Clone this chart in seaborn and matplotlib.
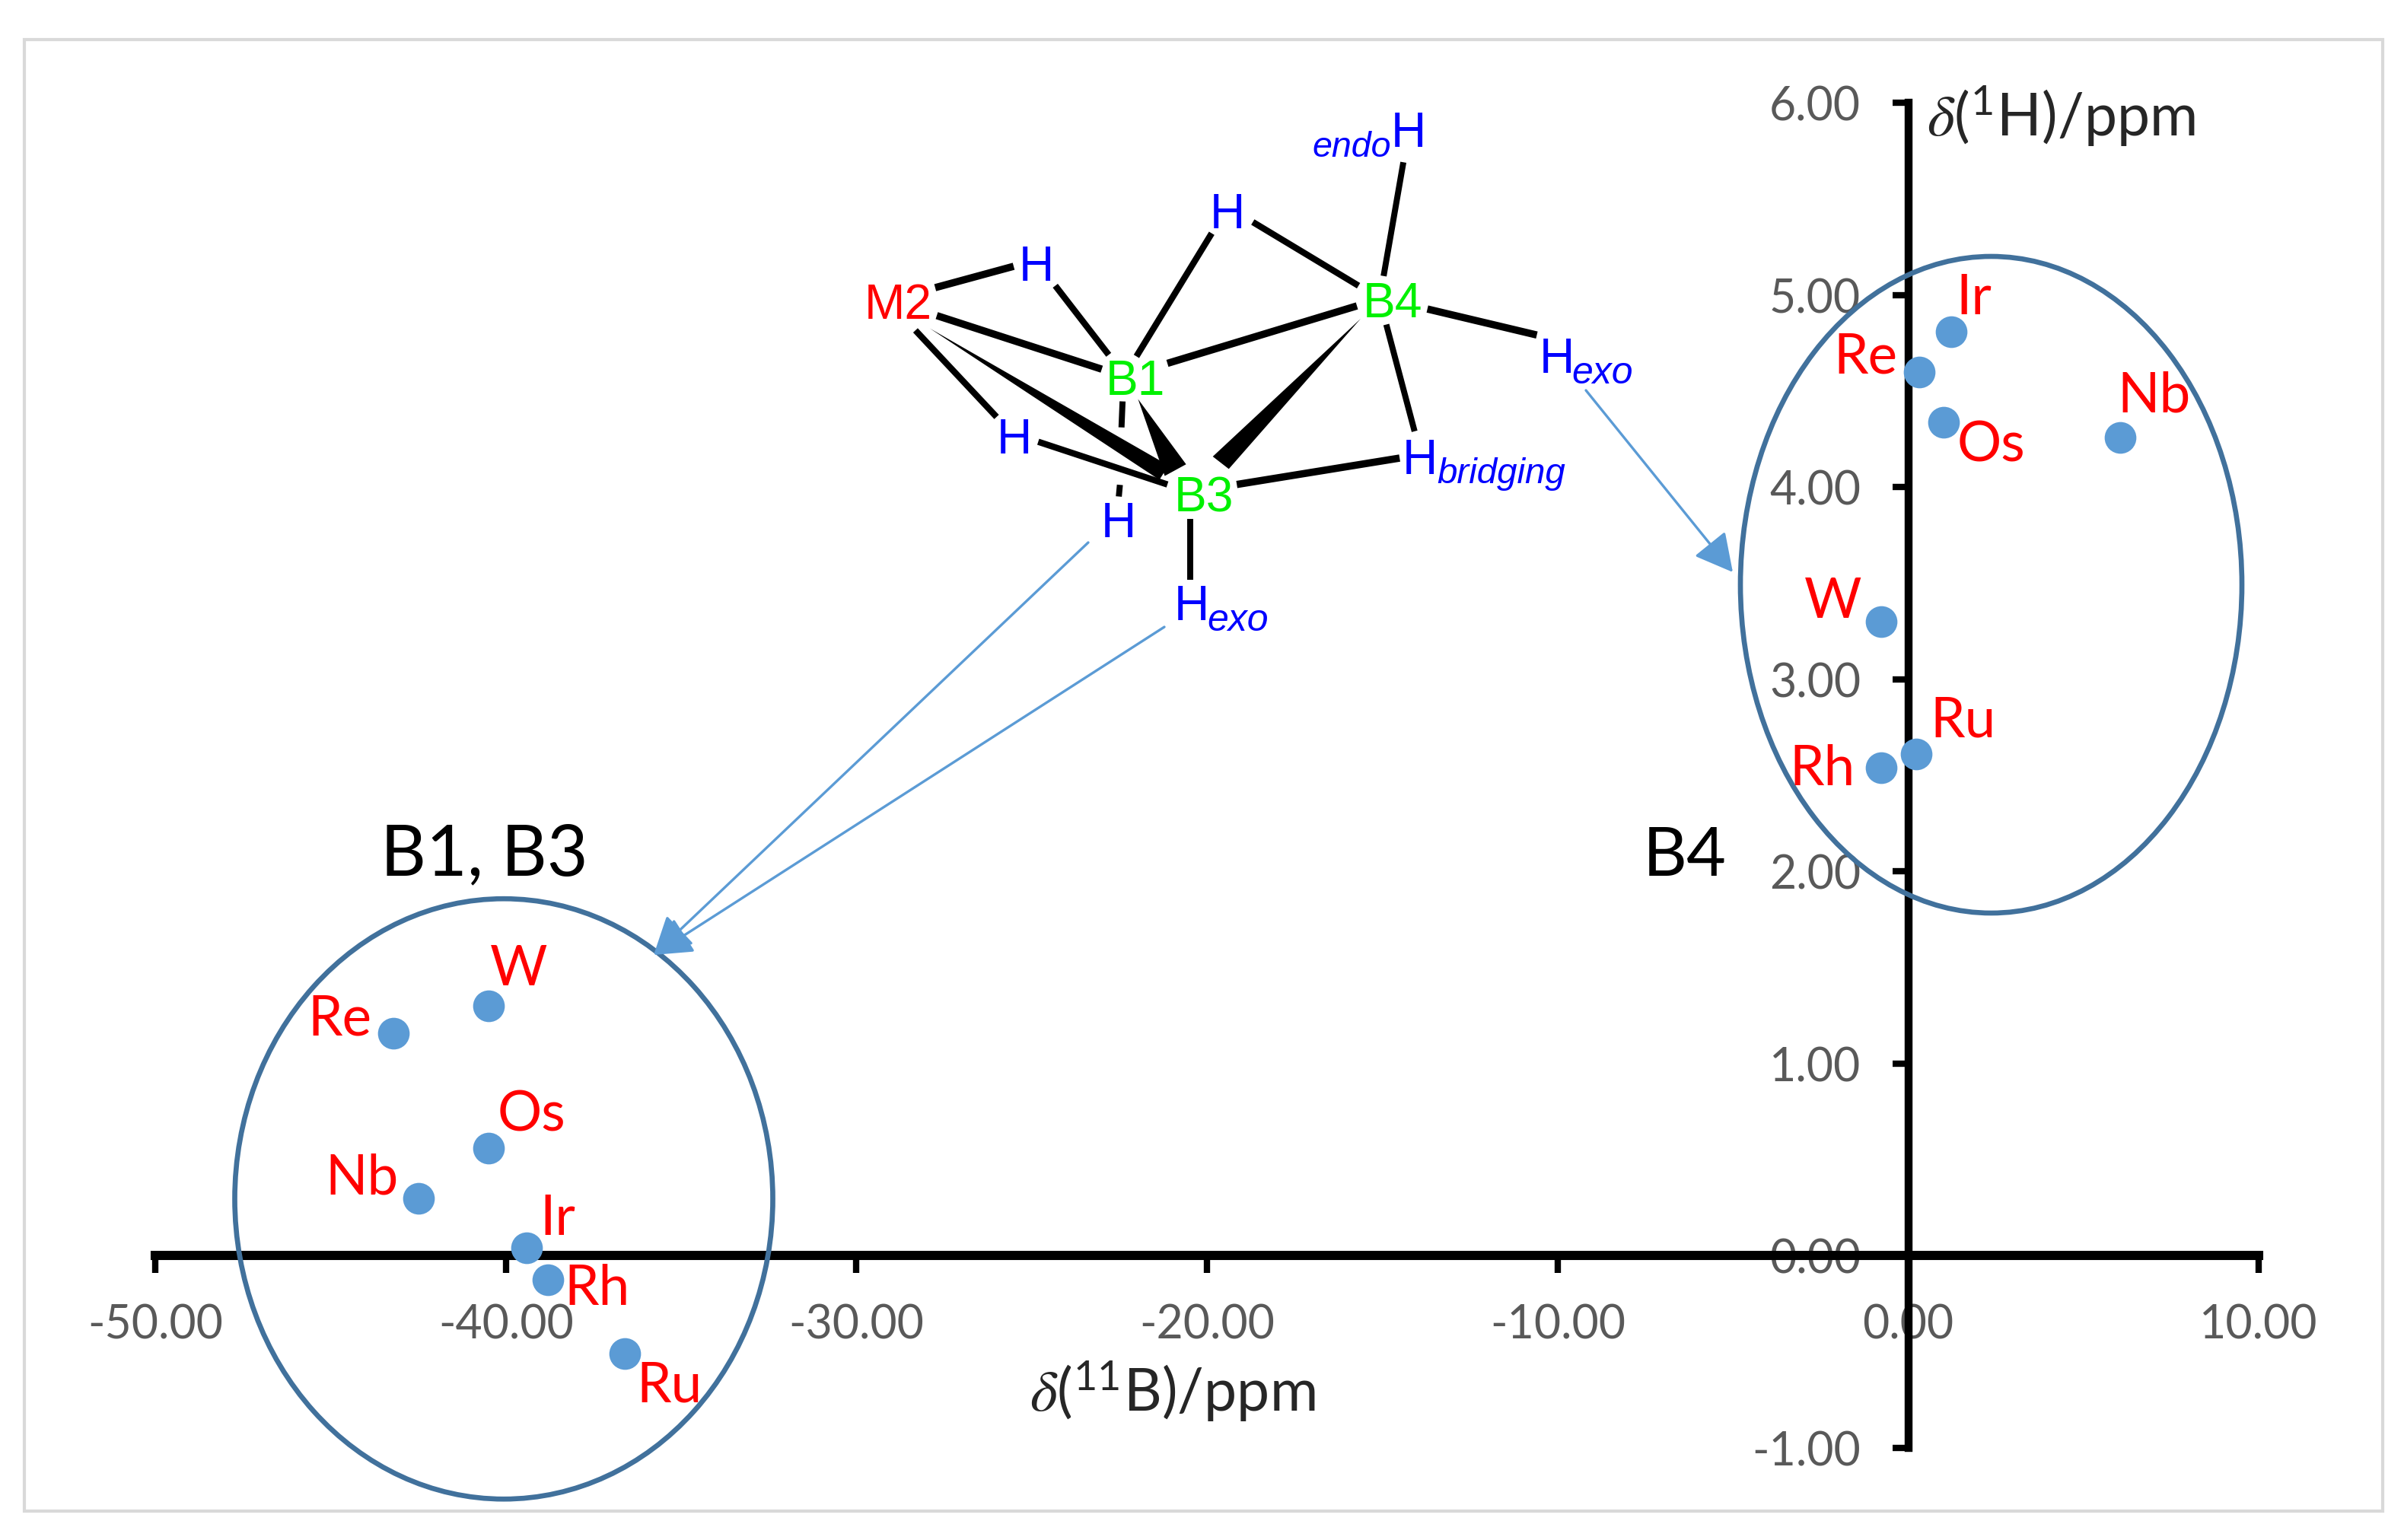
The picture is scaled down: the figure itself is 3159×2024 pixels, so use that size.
import matplotlib
matplotlib.use("Agg")
import matplotlib.pyplot as plt
from matplotlib.patches import Ellipse, Polygon, Rectangle, FancyArrowPatch
import pandas as pd
import seaborn as sns

# ---------- data ----------
metals_b4 = ["Ir", "Re", "Os", "Nb", "W", "Ru", "Rh"]
b4_x = [1.23, 0.32, 1.02, 6.04, -0.78, 0.23, -0.78]
b4_y = [4.81, 4.60, 4.34, 4.26, 3.30, 2.61, 2.54]

metals_b13 = ["W", "Re", "Os", "Nb", "Ir", "Rh", "Ru"]
b13_x = [-40.5, -43.2, -40.5, -42.5, -39.4, -38.8, -36.6]
b13_y = [1.30, 1.16, 0.56, 0.30, 0.04, -0.125, -0.51]

x_ticks = [-50, -40, -30, -20, -10, 0, 10]
y_ticks = [-1, 0, 1, 2, 3, 4, 5, 6]

# label positions in image pixels
b4_label_px = [(2594, 392), (2451, 470), (2616, 586), (2830, 521), (2409, 791), (2579, 948), (2394, 1011)]
b13_label_px = [(682, 1274), (446, 1340), (698, 1466), (475, 1549), (733, 1602), (784, 1694), (879, 1822)]

W, H = 3159, 2024
DPI = 300
BLUE = "#5b9bd5"
RING = "#41719c"
TICK = "#595959"

sns.set_theme(style="white")
plt.rcParams["font.family"] = ["Lato", "DejaVu Sans"]
plt.rcParams["mathtext.fontset"] = "custom"
plt.rcParams["mathtext.rm"] = "Lato"
plt.rcParams["mathtext.it"] = "STIXGeneral:italic"
plt.rcParams["mathtext.bf"] = "Lato:bold"

fig = plt.figure(figsize=(W / DPI + 1e-6, H / DPI + 1e-6), dpi=DPI, facecolor="white")

# pixel-scale mapping of the chart axes
x_px0, x_per = 2507.5, 46.07
y_px0, y_per = 1650.5, 252.5
ax = fig.add_axes([0, 0, 1, 1], facecolor="none")
df = pd.concat([
    pd.DataFrame({"x": b4_x, "y": b4_y, "group": "B4"}),
    pd.DataFrame({"x": b13_x, "y": b13_y, "group": "B1, B3"}),
])
sns.scatterplot(data=df, x="x", y="y", ax=ax, color=BLUE, s=100, linewidth=0, zorder=5, legend=False)
ax.set_xlim(-x_px0 / x_per, (W - x_px0) / x_per)
ax.set_ylim((y_px0 - H) / y_per, y_px0 / y_per)
ax.set_xlabel("")
ax.set_ylabel("")

for s in ("top", "right"):
    ax.spines[s].set_visible(False)
ax.spines["bottom"].set_position(("data", 0))
ax.spines["left"].set_position(("data", 0))
ax.spines["bottom"].set_bounds(-50, 10)
ax.spines["left"].set_bounds(-1, 6)
ax.spines["bottom"].set_linewidth(2.9)
ax.spines["left"].set_linewidth(2.5)
ax.spines["bottom"].set_color("black")
ax.spines["left"].set_color("black")
ax.set_xticks(x_ticks)
ax.set_yticks(y_ticks)
ax.set_xticklabels([f"{v:.2f}" for v in x_ticks])
ax.set_yticklabels([f"{v:.2f}" for v in y_ticks])
ax.tick_params(axis="x", direction="out", bottom=True, length=5.5, width=2, color="black",
               labelcolor=TICK, labelsize=14.6, pad=9.5)
ax.tick_params(axis="y", direction="out", left=True, length=5, width=2, color="black",
               labelcolor=TICK, labelsize=14.6, pad=10)
for lab in ax.get_yticklabels() + ax.get_xticklabels():
    lab.set_zorder(6)

# overlay in image pixels for the annotations
ov = fig.add_axes([0, 0, 1, 1], facecolor="none", zorder=3)
ov.set_xlim(0, W)
ov.set_ylim(H, 0)
ov.axis("off")
ax.set_zorder(2)

bg = fig.add_axes([0, 0, 1, 1], zorder=0, facecolor="white")
bg.set_xlim(0, W)
bg.set_ylim(H, 0)
bg.axis("off")
bg.add_patch(Rectangle((32, 52), 3099, 1934, fill=False, ec="#d9d9d9", lw=1.0))

ov.add_patch(Ellipse((2616.5, 768.5), 659, 863, fill=False, ec=RING, lw=1.6))
ov.add_patch(Ellipse((662, 1575.7), 707, 789, fill=False, ec=RING, lw=1.6))


def m(zx, zy):
    return (1050 + zx / 1.4255, 100 + zy / 1.96)


bonds = [
    ((255, 545), (402, 490), 2.3), ((480, 540), (580, 718), 2.0), ((632, 722), (773, 405), 2.0),
    ((850, 376), (1048, 540), 2.0), ((1095, 515), (1132, 222), 1.9), ((258, 617), (567, 755), 2.3),
    ((690, 740), (1045, 592), 2.3), ((218, 655), (370, 878), 2.0), ((448, 942), (690, 1052), 2.0),
    ((1177, 600), (1382, 667), 2.3), ((1100, 640), (1153, 915), 1.9), ((820, 1052), (1125, 984), 2.3),
    ((733, 1140), (733, 1297), 1.9), ((606, 838), (604, 905), 1.9), ((601, 1053), (599, 1083), 1.9),
]
for a, b, lw in bonds:
    pa, pb = m(*a), m(*b)
    ov.plot([pa[0], pb[0]], [pa[1], pb[1]], color="black", lw=lw, solid_capstyle="butt")

wedges = [
    [(245, 650), (692, 1003), (675, 1040)],
    [(635, 832), (725, 1000), (685, 1030)],
    [(1052, 625), (775, 980), (805, 1012)],
]
for w in wedges:
    ov.add_patch(Polygon([m(*p) for p in w], closed=True, fc="black", ec="none"))

MOL = 15.4
atoms = [
    ("M2", 186, 583, "#ff0000"), ("B1", 630, 778, "#00f000"), ("B4", 1112, 578, "#00f000"),
    ("B3", 758, 1078, "#00f000"), ("H", 803, 348, "#0000ff"), ("H", 445, 485, "#0000ff"),
    ("H", 403, 930, "#0000ff"), ("H", 598, 1145, "#0000ff"), ("H", 1142, 140, "#0000ff"),
    ("H", 1163, 982, "#0000ff"), ("H", 1420, 722, "#0000ff"), ("H", 735, 1358, "#0000ff"),
]
for t, zx, zy, c in atoms:
    px, py = m(zx, zy)
    ov.text(px, py + 5, t, color=c, ha="center", va="center", fontsize=MOL, family="Liberation Sans")
subs = [("endo", 1035, 178, 11.2), ("bridging", 1316, 1020, 11.4), ("exo", 1505, 760, 12), ("exo", 822, 1397, 12)]
for t, zx, zy, fs in subs:
    px, py = m(zx, zy)
    ov.text(px, py + 3, t, color="#0000ff", ha="center", va="center", fontsize=fs, style="italic",
            family="Liberation Sans")

# leader arrows
for start, tip in [
    ((2084, 513), (2277, 752)),
    ((1430, 713), (859, 1255)),
    ((1530, 824), (859, 1255)),
]:
    ov.add_patch(FancyArrowPatch(start, tip, arrowstyle="-|>,head_length=3.2,head_width=1.7",
                                 color=BLUE, lw=0.8, shrinkA=0, shrinkB=0, mutation_scale=3.2,
                                 zorder=3))

for names, pos in ((metals_b4, b4_label_px), (metals_b13, b13_label_px)):
    for n, (px, py) in zip(names, pos):
        ov.text(px, py, n, color="#ff0000", fontsize=17.5, ha="center", va="center")

ov.text(636, 1124, "B1, B3", color="black", fontsize=22.3, ha="center", va="center")
ov.text(2214, 1126, "B4", color="black", fontsize=21.5, ha="center", va="center")
ov.text(1541, 1829, r"$\delta$($^{11}$B)/ppm", color="#262626", fontsize=18.5, ha="center", va="center")
ov.text(2709, 153, r"$\delta$($^{1}$H)/ppm", color="#262626", fontsize=18.5, ha="center", va="center")

fig.savefig("out.png", dpi=DPI, facecolor="white")
